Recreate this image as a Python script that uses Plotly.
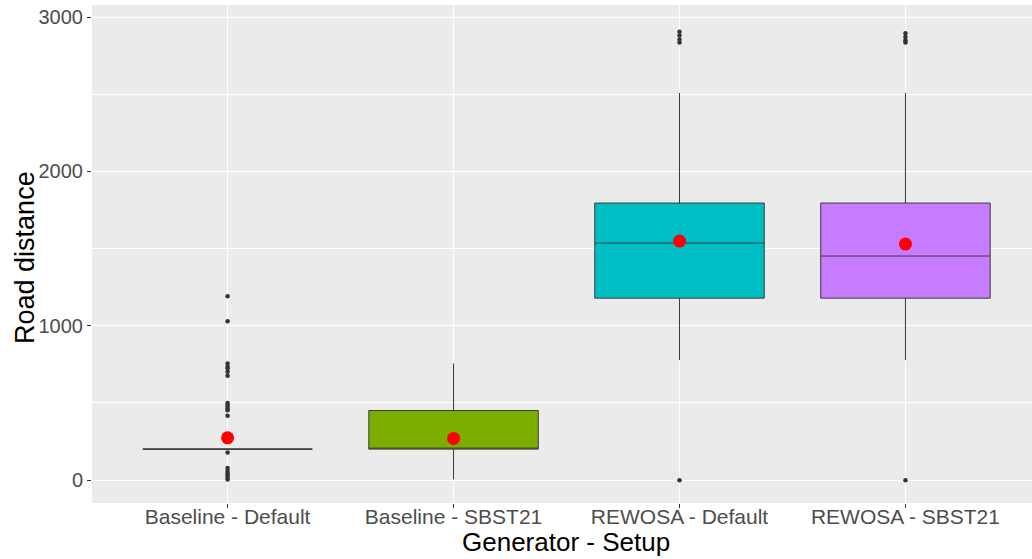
import plotly.graph_objects as go

categories = ["Baseline - Default", "Baseline - SBST21", "REWOSA - Default", "REWOSA - SBST21"]
q1 = [201, 201, 1179, 1179]
median = [201, 201, 1536, 1452]
q3 = [201, 451, 1795, 1795]
lower_fence = [201, 5, 778, 778]
upper_fence = [201, 756, 2508, 2508]
means = [274, 270, 1549, 1529]
fill_colors = ["#F8766D", "#7CAE00", "#00BFC4", "#C77CFF"]

outliers = [
    [1192, 1030, 756, 735, 724, 702, 676, 500, 488, 475, 462, 453, 417, 179, 78, 60, 45, 30, 15, 5],
    [],
    [2905, 2880, 2855, 2835, 0],
    [2895, 2870, 2850, 2835, 0],
]

fig = go.Figure()
for i, cat in enumerate(categories):
    fig.add_trace(go.Box(
        x=[i], q1=[q1[i]], median=[median[i]], q3=[q3[i]],
        lowerfence=[lower_fence[i]], upperfence=[upper_fence[i]],
        width=0.75, whiskerwidth=0, fillcolor=fill_colors[i],
        line=dict(color="#3A3A3A", width=1), boxpoints=False,
        showlegend=False, hoverinfo="skip",
    ))
    if outliers[i]:
        fig.add_trace(go.Scatter(
            x=[i] * len(outliers[i]), y=outliers[i], mode="markers",
            marker=dict(color="#333333", size=4.5), showlegend=False,
        ))

fig.add_trace(go.Scatter(
    x=list(range(len(categories))), y=means, mode="markers",
    marker=dict(color="#FF0000", size=13), showlegend=False,
))

fig.update_layout(
    width=1032, height=559,
    margin=dict(l=92, r=0, t=5, b=56),
    paper_bgcolor="white", plot_bgcolor="#EBEBEB",
    font=dict(family="Liberation Sans, Arial, sans-serif"),
    showlegend=False, hovermode=False,
    annotations=[
        dict(text="Generator - Setup", xref="paper", yref="paper", x=0.504, y=-0.078,
             xanchor="center", yanchor="middle", showarrow=False,
             font=dict(size=26, color="black")),
        dict(text="Road distance", xref="paper", yref="paper", x=-0.0713, y=0.494,
             xanchor="center", yanchor="middle", showarrow=False, textangle=-90,
             font=dict(size=27, color="black")),
    ],
)
fig.update_xaxes(
    range=[-0.6, 3.56], tickmode="array", automargin=False,
    tickvals=list(range(len(categories))), ticktext=categories,
    tickfont=dict(size=21, color="#4D4D4D"),
    ticks="outside", ticklen=4, tickcolor="#333333", ticklabelstandoff=-9,
    showgrid=True, gridcolor="white", gridwidth=1.2, zeroline=False,
)
fig.update_yaxes(
    range=[-148, 3078], tickvals=[0, 1000, 2000, 3000], automargin=False,
    tickfont=dict(size=20, color="#4D4D4D"),
    ticks="outside", ticklen=4, tickcolor="#333333",
    showgrid=True, gridcolor="white", gridwidth=1.2, zeroline=False,
    minor=dict(tickvals=[500, 1500, 2500], showgrid=True, gridcolor="white", gridwidth=0.6, ticks=""),
)

fig.write_html("out.html", config={"displayModeBar": False},
               post_script="document.body.style.margin='0';")
